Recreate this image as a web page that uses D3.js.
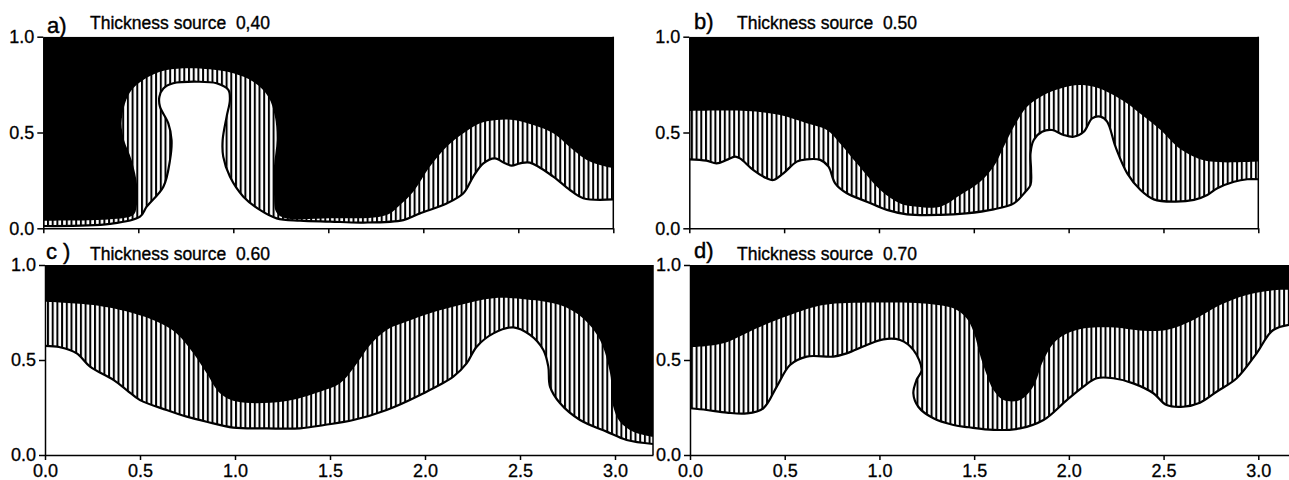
<!DOCTYPE html>
<html><head><meta charset="utf-8">
<script src="https://cdn.jsdelivr.net/npm/d3@7"></script>
<style>
html,body{margin:0;padding:0;background:#fff;}
svg{display:block;}
text{font-family:"Liberation Sans",Arial,sans-serif;fill:#000;}
</style></head>
<body>
<svg id="chart" width="1289" height="480"></svg>
<script>
// ---------------- data ----------------
const panelLetters = ["a)", "b)", "c )", "d)"];
const sourceLabels = ["0,40", "0.50", "0.60", "0.70"];
const yTickValues = [0, 0.5, 1.0];
const xTickValues = [0, 0.5, 1.0, 1.5, 2.0, 2.5, 3.0];

// interface between hatched layer and black layer (x, y)
const upperA = [[0,0.040],[0.351,0.047],[0.474,0.070],[0.491,0.113],[0.495,0.217],[0.465,0.357],[0.425,0.461],[0.412,0.548],[0.430,0.652],[0.465,0.722],[0.526,0.774],[0.614,0.817],[0.737,0.835],[0.877,0.830],[1.000,0.809],[1.105,0.765],[1.184,0.687],[1.219,0.583],[1.228,0.461],[1.214,0.322],[1.214,0.183],[1.225,0.087],[1.263,0.057],[1.509,0.052],[1.807,0.070],[1.877,0.122],[1.947,0.191],[2.035,0.322],[2.123,0.426],[2.211,0.496],[2.298,0.548],[2.386,0.565],[2.474,0.565],[2.579,0.539],[2.684,0.496],[2.789,0.409],[2.860,0.357],[2.930,0.330],[3.000,0.313]];
// interface between white layer and hatched layer (x, y)
const lowerA = [[0,0.012],[0.351,0.023],[0.509,0.061],[0.544,0.113],[0.632,0.217],[0.667,0.357],[0.675,0.461],[0.658,0.548],[0.614,0.635],[0.611,0.687],[0.632,0.730],[0.684,0.757],[0.807,0.765],[0.912,0.757],[0.974,0.722],[0.982,0.670],[0.965,0.583],[0.944,0.461],[0.947,0.374],[0.982,0.270],[1.053,0.165],[1.140,0.096],[1.228,0.052],[1.351,0.040],[1.509,0.035],[1.684,0.030],[1.895,0.043],[1.982,0.078],[2.123,0.130],[2.211,0.183],[2.263,0.270],[2.316,0.339],[2.377,0.365],[2.430,0.339],[2.465,0.327],[2.509,0.339],[2.561,0.343],[2.684,0.270],[2.772,0.200],[2.842,0.157],[3.000,0.151]];

const upperB = [[0,0.612],[0.303,0.612],[0.479,0.591],[0.619,0.548],[0.725,0.513],[0.795,0.443],[0.883,0.339],[1.007,0.200],[1.112,0.130],[1.200,0.113],[1.323,0.113],[1.429,0.174],[1.534,0.243],[1.605,0.322],[1.658,0.426],[1.711,0.530],[1.781,0.635],[1.869,0.696],[1.957,0.730],[2.045,0.748],[2.133,0.739],[2.221,0.704],[2.309,0.652],[2.397,0.583],[2.485,0.513],[2.573,0.426],[2.661,0.374],[2.749,0.348],[3.000,0.348]];
const lowerB = [[0,0.360],[0.090,0.353],[0.144,0.339],[0.197,0.357],[0.241,0.374],[0.267,0.365],[0.338,0.304],[0.408,0.261],[0.443,0.252],[0.496,0.287],[0.567,0.348],[0.619,0.360],[0.690,0.357],[0.734,0.322],[0.769,0.235],[0.831,0.183],[0.936,0.139],[1.042,0.096],[1.147,0.073],[1.323,0.070],[1.460,0.078],[1.605,0.099],[1.711,0.130],[1.772,0.191],[1.799,0.226],[1.802,0.304],[1.799,0.391],[1.816,0.461],[1.860,0.504],[1.913,0.513],[1.974,0.487],[2.027,0.478],[2.080,0.504],[2.124,0.574],[2.168,0.583],[2.203,0.557],[2.247,0.426],[2.309,0.287],[2.379,0.200],[2.449,0.151],[2.555,0.139],[2.661,0.148],[2.731,0.174],[2.784,0.209],[2.872,0.243],[2.942,0.256],[3.000,0.256]];

const upperC = [[0,0.807],[0.254,0.789],[0.465,0.746],[0.588,0.702],[0.693,0.640],[0.781,0.535],[0.851,0.430],[0.921,0.325],[1.009,0.281],[1.254,0.281],[1.447,0.333],[1.553,0.377],[1.623,0.456],[1.711,0.579],[1.798,0.658],[1.904,0.702],[2.026,0.746],[2.184,0.789],[2.360,0.825],[2.535,0.819],[2.711,0.789],[2.833,0.719],[2.921,0.605],[2.974,0.430],[2.991,0.254],[3.026,0.175],[3.096,0.123],[3.200,0.096]];
const lowerC = [[0,0.574],[0.079,0.567],[0.167,0.535],[0.237,0.465],[0.360,0.395],[0.430,0.342],[0.500,0.289],[0.640,0.237],[0.746,0.202],[0.851,0.175],[0.991,0.144],[1.167,0.140],[1.342,0.140],[1.470,0.158],[1.623,0.184],[1.798,0.237],[1.974,0.316],[2.149,0.412],[2.219,0.482],[2.272,0.570],[2.360,0.640],[2.465,0.672],[2.553,0.632],[2.623,0.553],[2.649,0.465],[2.658,0.360],[2.711,0.272],[2.816,0.184],[2.956,0.123],[3.061,0.079],[3.200,0.058]];

const upperD = [[0,0.567],[0.176,0.588],[0.352,0.667],[0.528,0.737],[0.704,0.789],[0.968,0.802],[1.232,0.798],[1.390,0.772],[1.460,0.720],[1.500,0.640],[1.530,0.530],[1.560,0.440],[1.602,0.342],[1.655,0.289],[1.742,0.289],[1.812,0.360],[1.866,0.500],[1.936,0.605],[2.041,0.658],[2.217,0.672],[2.393,0.654],[2.516,0.658],[2.657,0.711],[2.798,0.789],[2.939,0.842],[3.097,0.868],[3.200,0.868]];
const lowerD = [[0,0.246],[0.088,0.237],[0.194,0.223],[0.299,0.219],[0.387,0.246],[0.458,0.360],[0.528,0.474],[0.616,0.518],[0.757,0.518],[0.827,0.535],[0.933,0.579],[1.021,0.609],[1.109,0.605],[1.179,0.553],[1.223,0.447],[1.196,0.395],[1.179,0.325],[1.205,0.254],[1.285,0.193],[1.391,0.158],[1.470,0.146],[1.602,0.132],[1.742,0.140],[1.866,0.184],[1.989,0.289],[2.077,0.360],[2.147,0.404],[2.235,0.404],[2.340,0.377],[2.446,0.325],[2.516,0.263],[2.604,0.254],[2.692,0.275],[2.780,0.333],[2.886,0.404],[2.991,0.535],[3.079,0.658],[3.200,0.690]];

const uppers = [upperA, upperB, upperC, upperD];
const lowers = [lowerA, lowerB, lowerC, lowerD];
const xMaxes = [3.0, 3.0, 3.2, 3.2];

// ---------------- layout ----------------
const layout = [
  {left: 43.3, x3: 613.3, top: 36.7, bottom: 228.3, showX: false, letter: [47, 33], title: [90, 29]},
  {left: 689.3, x3: 1258.3, top: 36.7, bottom: 228.3, showX: false, letter: [694, 29], title: [737, 29]},
  {left: 45, x3: 615, top: 265, bottom: 455, showX: true, letter: [46, 259], title: [90, 260]},
  {left: 690, x3: 1258.3, top: 265, bottom: 455, showX: true, letter: [694, 258], title: [737, 260]}
];

const svg = d3.select("#chart");
const defs = svg.append("defs");
const pat = defs.append("pattern").attr("id", "hatch")
  .attr("patternUnits", "userSpaceOnUse").attr("width", 4.7).attr("height", 10);
pat.append("rect").attr("width", 4.7).attr("height", 10).attr("fill", "#fff");
pat.append("rect").attr("x", 0).attr("width", 2).attr("height", 10).attr("fill", "#000");

const fmt = d3.format(".1f");

layout.forEach((L, i) => {
  const xmax = xMaxes[i];
  const unit = (L.x3 - L.left) / 3;
  const x = d3.scaleLinear().domain([0, xmax]).range([L.left, L.left + unit * xmax]);
  const y = d3.scaleLinear().domain([0, 1]).range([L.bottom, L.top]);
  const g = svg.append("g");

  defs.append("clipPath").attr("id", "clip" + i).append("rect")
    .attr("x", x(0)).attr("y", y(1)).attr("width", x(xmax) - x(0)).attr("height", y(0) - y(1));
  const plot = g.append("g").attr("clip-path", `url(#clip${i})`);

  plot.append("rect").attr("x", x(0)).attr("y", y(1))
    .attr("width", x(xmax) - x(0)).attr("height", y(0) - y(1)).attr("fill", "#000");

  const line = d3.line().x(d => x(d[0])).y(d => y(d[1])).curve(d3.curveCatmullRom.alpha(0.5));
  const closed = pts => {
    const first = pts[0], last = pts[pts.length - 1];
    return line(pts) + `L${x(last[0]) + 3},${y(last[1])}L${x(last[0]) + 3},${y(0) + 3}L${x(first[0]) - 3},${y(0) + 3}L${x(first[0]) - 3},${y(first[1])}Z`;
  };

  plot.append("path").attr("d", closed(uppers[i])).attr("fill", "url(#hatch)");
  plot.append("path").attr("d", closed(lowers[i])).attr("fill", "#fff");
  plot.append("path").attr("d", line(lowers[i])).attr("fill", "none")
    .attr("stroke", "#000").attr("stroke-width", 2.2).attr("stroke-linejoin", "round");

  // right frame
  g.append("line").attr("x1", x(xmax)).attr("x2", x(xmax)).attr("y1", y(1)).attr("y2", y(0))
    .attr("stroke", "#000").attr("stroke-width", 1.5);

  // y axis
  const ya = g.append("g").attr("transform", `translate(${x(0)},0)`)
    .call(d3.axisLeft(y).tickValues(yTickValues).tickSize(6).tickSizeOuter(0).tickPadding(3).tickFormat(fmt));
  // x axis
  const xa = g.append("g").attr("transform", `translate(0,${y(0)})`)
    .call(d3.axisBottom(x).tickValues(xTickValues).tickSize(5).tickSizeOuter(0).tickPadding(4)
      .tickFormat(L.showX ? fmt : () => ""));
  [ya, xa].forEach(a => {
    a.select(".domain").attr("stroke", "#000").attr("stroke-width", 1.5);
    a.selectAll(".tick line").attr("stroke", "#000").attr("stroke-width", 1.5);
    a.selectAll("text").style("font-size", "18px").style("font-family", '"Liberation Sans", Arial, sans-serif')
      .attr("fill", "#000").attr("stroke", "#000").attr("stroke-width", 0.3);
  });

  g.append("text").attr("x", L.letter[0]).attr("y", L.letter[1])
    .style("font-size", "22px").style("white-space", "pre")
    .attr("stroke", "#000").attr("stroke-width", 0.4).text(panelLetters[i]);
  g.append("text").attr("x", L.title[0]).attr("y", L.title[1])
    .style("font-size", "17.5px").style("white-space", "pre")
    .attr("stroke", "#000").attr("stroke-width", 0.35)
    .text("Thickness source  " + sourceLabels[i]);
});
</script>
</body></html>
